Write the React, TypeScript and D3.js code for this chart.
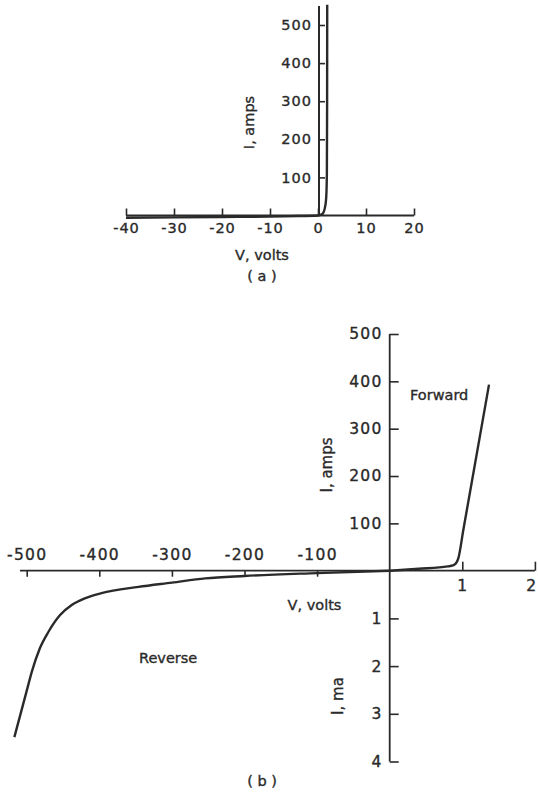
import { useEffect, useRef } from "react";
import * as d3 from "d3";

// (a) full-scale view
const aVoltTicks = [-40, -30, -20, -10, 0, 10, 20];
const aAmpTicks = [100, 200, 300, 400, 500];
const aCurveV = [-40, -30, -20, -10, -4, 0, 0.5, 1.0, 1.4, 1.7, 1.85, 1.9, 1.92];
const aCurveI = [-6, -5, -4, -3, -1.5, 0, 1.5, 5, 18, 45, 110, 300, 553];

// (b) expanded view: reverse in volts / mA, forward in volts / amps
const bNegVoltTicks = [-500, -400, -300, -200, -100];
const bPosVoltTicks = [1, 2];
const bAmpTicks = [100, 200, 300, 400, 500];
const bMaTicks = [1, 2, 3, 4];
const reverseV = [-517, -500, -493, -482, -470, -454, -438, -420, -397, -346, -300, -254, -200, -100, 0];
const reverseMa = [3.49, 2.52, 2.12, 1.63, 1.28, 0.93, 0.72, 0.58, 0.47, 0.34, 0.25, 0.16, 0.11, 0.05, 0];
const forwardV = [0, 0.4, 0.8, 0.87, 0.91, 0.945, 1.014, 1.368];
const forwardA = [0, 4, 9, 11, 15, 26, 86, 393];

const INK = "#2a2a2a";
const FONT = "'DejaVu Sans', sans-serif";
const fmt = (d: d3.NumberValue) => String(d);

export default function App() {
  const svgRef = useRef<SVGSVGElement>(null);

  useEffect(() => {
    if (!svgRef.current) return;
    const svg = d3.select(svgRef.current);
    svg.selectAll("*").remove();

    const styleText = (sel: d3.Selection<any, any, any, any>, size: string) =>
      sel
        .attr("fill", INK)
        .attr("stroke", INK)
        .attr("stroke-width", 0.35)
        .attr("font-size", size)
        .attr("font-family", FONT);

    // ---------- panel (a) ----------
    const xA = d3.scaleLinear().domain([-40, 20]).range([126, 414]);
    const yA = d3.scaleLinear().domain([0, 500]).range([215.5, 25]);
    const gA = svg.append("g").attr("font-family", FONT);

    const xAxisA = gA
      .append("g")
      .attr("transform", `translate(0,${yA(0)})`)
      .call(
        d3
          .axisBottom(xA)
          .tickValues(aVoltTicks)
          .tickFormat(fmt)
          .tickSize(-7)
          .tickSizeOuter(0)
          .tickPadding(7)
      );
    const yAxisA = gA
      .append("g")
      .attr("transform", `translate(${xA(0) + 1},0)`)
      .call(
        d3.axisLeft(yA).tickValues(aAmpTicks).tickFormat(fmt).tickSize(-6).tickSizeOuter(0).tickPadding(7)
      );

    [xAxisA, yAxisA].forEach((ax) => {
      ax.select(".domain").remove();
      ax.selectAll("line").attr("stroke", INK).attr("stroke-width", 1.6);
      styleText(ax.selectAll("text"), "14.5px").attr("letter-spacing", "1px");
    });

    gA.append("line")
      .attr("x1", xA(-40))
      .attr("x2", xA(20))
      .attr("y1", yA(0))
      .attr("y2", yA(0))
      .attr("stroke", INK)
      .attr("stroke-width", 2);
    gA.append("line")
      .attr("x1", xA(0) + 1)
      .attr("x2", xA(0) + 1)
      .attr("y1", yA(0))
      .attr("y2", yA(550))
      .attr("stroke", INK)
      .attr("stroke-width", 2);

    const lineA = d3
      .line<number>()
      .x((v) => xA(v))
      .y((_, i) => yA(aCurveI[i]))
      .curve(d3.curveMonotoneX);
    gA.append("path")
      .attr("d", lineA(aCurveV))
      .attr("fill", "none")
      .attr("stroke", INK)
      .attr("stroke-width", 2.4);

    styleText(
      gA.append("text")
        .attr("transform", "translate(249,122.5) rotate(-90)")
        .attr("text-anchor", "middle")
        .attr("dominant-baseline", "central"),
      "14.5px"
    ).text("I, amps");
    styleText(
      gA.append("text").attr("x", 262).attr("y", 260).attr("text-anchor", "middle"),
      "14.5px"
    ).text("V, volts");
    styleText(
      gA.append("text").attr("x", 262).attr("y", 281).attr("text-anchor", "middle"),
      "14.5px"
    ).text("( a )");

    // ---------- panel (b) ----------
    const xNeg = d3.scaleLinear().domain([-500, 0]).range([26.7, 389.7]);
    const xPos = d3.scaleLinear().domain([0, 2]).range([389.7, 534.9]);
    const yAmp = d3.scaleLinear().domain([0, 500]).range([570.7, 334]);
    const yMa = d3.scaleLinear().domain([0, 4]).range([570.7, 761.5]);
    const gB = svg.append("g").attr("font-family", FONT);

    const negAxis = gB
      .append("g")
      .attr("transform", `translate(0,${yAmp(0)})`)
      .call(d3.axisBottom(xNeg).tickValues(bNegVoltTicks).tickFormat(fmt).tickSize(6).tickSizeOuter(0));
    negAxis.selectAll("text").attr("y", -21.5);

    const posAxis = gB
      .append("g")
      .attr("transform", `translate(0,${yAmp(0)})`)
      .call(
        d3.axisBottom(xPos).tickValues(bPosVoltTicks).tickFormat(fmt).tickSize(-9).tickSizeOuter(0).tickPadding(9.5)
      );

    const ampAxis = gB
      .append("g")
      .attr("transform", `translate(${xPos(0)},0)`)
      .call(d3.axisLeft(yAmp).tickValues(bAmpTicks).tickFormat(fmt).tickSize(-9).tickSizeOuter(0).tickPadding(7));
    const maAxis = gB
      .append("g")
      .attr("transform", `translate(${xPos(0)},0)`)
      .call(d3.axisLeft(yMa).tickValues(bMaTicks).tickFormat(fmt).tickSize(-9).tickSizeOuter(0).tickPadding(7));

    [negAxis, posAxis, ampAxis, maAxis].forEach((ax) => {
      ax.select(".domain").remove();
      ax.selectAll("line").attr("stroke", INK).attr("stroke-width", 1.6);
      styleText(ax.selectAll("text"), "15.5px").attr("letter-spacing", "1.3px");
    });
    // keep the last tick label inside the page edge
    posAxis
      .selectAll<SVGTextElement, number>("text")
      .filter((d) => d === 2)
      .attr("text-anchor", "end")
      .attr("x", 537 - xPos(2));

    gB.append("line")
      .attr("x1", 20)
      .attr("x2", xPos(2))
      .attr("y1", yAmp(0))
      .attr("y2", yAmp(0))
      .attr("stroke", INK)
      .attr("stroke-width", 1.8);
    gB.append("line")
      .attr("x1", xPos(0))
      .attr("x2", xPos(0))
      .attr("y1", yAmp(500))
      .attr("y2", yMa(4))
      .attr("stroke", INK)
      .attr("stroke-width", 1.8);

    const revLine = d3
      .line<number>()
      .x((v) => xNeg(v))
      .y((_, i) => yMa(reverseMa[i]))
      .curve(d3.curveMonotoneX);
    const fwdLine = d3
      .line<number>()
      .x((v) => xPos(v))
      .y((_, i) => yAmp(forwardA[i]))
      .curve(d3.curveMonotoneX);
    gB.append("path")
      .attr("d", revLine(reverseV))
      .attr("fill", "none")
      .attr("stroke", INK)
      .attr("stroke-width", 2.4);
    gB.append("path")
      .attr("d", fwdLine(forwardV))
      .attr("fill", "none")
      .attr("stroke", INK)
      .attr("stroke-width", 2.4);

    styleText(
      gB.append("text")
        .attr("transform", "translate(327,465) rotate(-90)")
        .attr("text-anchor", "middle")
        .attr("dominant-baseline", "central"),
      "15px"
    ).text("I, amps");
    styleText(
      gB.append("text")
        .attr("transform", "translate(337.5,696) rotate(-90)")
        .attr("text-anchor", "middle")
        .attr("dominant-baseline", "central"),
      "15px"
    ).text("I, ma");
    styleText(gB.append("text").attr("x", 410).attr("y", 399.5), "14.5px").text("Forward");
    styleText(gB.append("text").attr("x", 139).attr("y", 663), "14.5px").text("Reverse");
    styleText(
      gB.append("text").attr("x", 314.5).attr("y", 610).attr("text-anchor", "middle"),
      "14.5px"
    ).text("V, volts");
    styleText(
      gB.append("text").attr("x", 262).attr("y", 786).attr("text-anchor", "middle"),
      "14.5px"
    ).text("( b )");
  }, []);

  return (
    <svg
      ref={svgRef}
      width={538}
      height={794}
      style={{ position: "absolute", left: 0, top: 0, background: "#fff" }}
    />
  );
}
